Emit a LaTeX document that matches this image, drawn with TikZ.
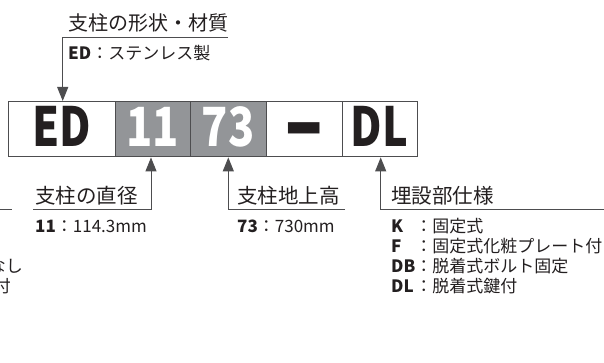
\documentclass[tikz,border=0pt]{standalone}
\usepackage{fontspec}
\setmainfont{Noto Sans CJK JP}
\usetikzlibrary{arrows.meta}
\definecolor{ink}{HTML}{231F20}
\definecolor{cellgray}{HTML}{939598}
\definecolor{linec}{HTML}{4D4D4F}
\tikzset{
  cell/.style={draw=linec, line width=0.9pt, minimum height=55.5pt, inner sep=0pt, anchor=north west},
  big/.style={font=\fontsize{54}{54}\selectfont\bfseries, anchor=base, inner sep=0pt},
  head/.style={font=\fontsize{20.5}{24}\selectfont, anchor=base west, inner sep=0pt, text=ink},
  sub/.style={font=\fontsize{17}{20}\selectfont, anchor=base west, inner sep=0pt, text=ink},
  conn/.style={draw=linec, line width=0.9pt},
  arr/.style={conn, -{Triangle[length=14pt,width=11pt]}},
}
\newcommand{\cd}[1]{\rlap{\bfseries #1}\phantom{\bfseries DB}}
\newcommand{\narrow}[1]{\scalebox{0.8}[1]{#1}}
\begin{document}
\begin{tikzpicture}[x=1pt,y=-1pt]
\useasboundingbox (0,0) rectangle (604,363);
% code boxes
\node[cell, minimum width=107pt] (c1) at (8,101) {};
\node[cell, minimum width=75pt, fill=cellgray] (c2) at (115,101) {};
\node[cell, minimum width=76pt, fill=cellgray] (c3) at (190,101) {};
\node[cell, minimum width=76pt] (c4) at (266,101) {};
\node[cell, minimum width=75pt] (c5) at (342,101) {};
\node[big, text=ink] (tED) at (62,147) {\narrow{ED}};
\node[big, text=white] (t11) at (152.5,147) {\narrow{11}};
\node[big, text=white] (t73) at (228,147) {\narrow{73}};
\node[inner sep=0pt, text=ink] (tdash) at (304,140) {\scalebox{0.73}[1.9]{\fontsize{53}{53}\selectfont\bfseries —}};
\node[big, text=ink] (tDL) at (379.5,147) {\narrow{DL}};
% top label
\node[head, font=\fontsize{20}{24}\selectfont] (h1) at (68,30.5) {支柱の形状・材質};
\node[sub] (s1) at (68,59.5) {\textbf{ED}：ステンレス製};
\coordinate (u1e) at (228,37);
\coordinate (u1c) at (62.7,37);
\draw[arr] (u1e) -- (u1c) -- (u1c |- c1.north);
% diameter
\node[head] (h2) at (35,204) {支柱の直径};
\node[sub] (s2) at (35,232) {\textbf{11}：114.3mm};
\coordinate (u2s) at (33,209.5);
\coordinate (u2c) at (151,209.5);
\draw[arr] (u2s) -- (u2c) -- (u2c |- c2.south);
% height
\node[head] (h3) at (237,204) {支柱地上高};
\node[sub] (s3) at (237,232) {\textbf{73}：730mm};
\coordinate (u3e) at (345,209.5);
\coordinate (u3c) at (228.3,209.5);
\draw[arr] (u3e) -- (u3c) -- (u3c |- c3.south);
% buried part
\node[head] (h4) at (391,204) {埋設部仕様};
\coordinate (u4e) at (604,209.5);
\coordinate (u4c) at (380.7,209.5);
\draw[arr] (u4e) -- (u4c) -- (u4c |- c5.south);
\node[sub] (l1) at (391,232) {\cd{K}：固定式};
\node[sub] (l2) at (391,252) {\cd{F}：固定式化粧プレート付};
\node[sub] (l3) at (391,272) {\cd{DB}：脱着式ボルト固定};
\node[sub] (l4) at (391,292) {\cd{DL}：脱着式鍵付};
% cut-off fragments of the neighbouring diagram
\begin{scope}
\clip (0,0) rectangle (604,363);
\coordinate (f0) at (-40,209.5);
\coordinate (f1) at (12,209.5);
\draw[conn] (f0) -- (f1);
\node[sub, anchor=base east] (fr1) at (23,272) {なし};
\node[sub, anchor=base east] (fr2) at (11,292) {付};
\end{scope}
\end{tikzpicture}
\end{document}
